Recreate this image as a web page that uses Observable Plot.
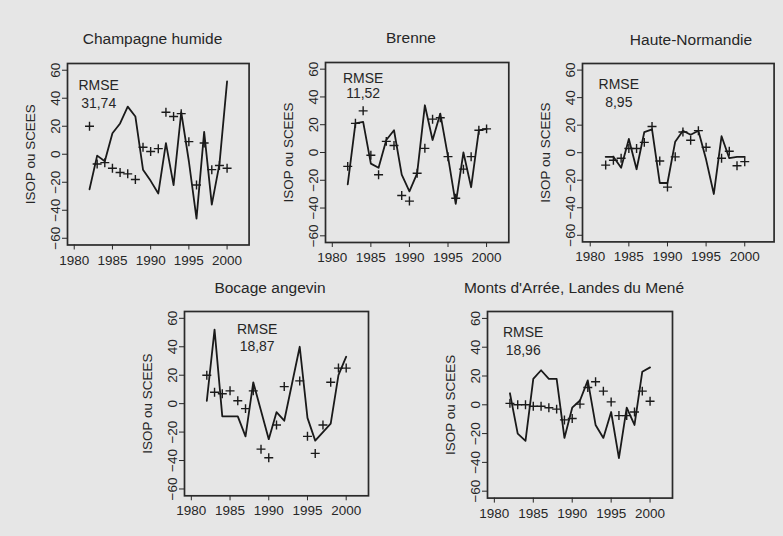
<!DOCTYPE html>
<html><head><meta charset="utf-8">
<script src="https://cdn.jsdelivr.net/npm/d3@7"></script>
<script src="https://cdn.jsdelivr.net/npm/@observablehq/plot@0.6"></script>
<style>
html,body{margin:0;padding:0;background:#e6e6e6;}
#chart{position:relative;width:783px;height:536px;background:#e6e6e6;overflow:hidden;font-family:"Liberation Sans",Arial,sans-serif;color:#262626;}
.title{position:absolute;font-size:15.5px;white-space:nowrap;transform:translate(-50%,-50%);line-height:1;}
.panel{position:absolute;}
.panel svg{overflow:visible;}
</style></head><body><div id="chart"></div>
<script>
// ---- data ----
const years = [1982,1983,1984,1985,1986,1987,1988,1989,1990,1991,1992,1993,1994,1995,1996,1997,1998,1999,2000];
const xTicks = [1980,1985,1990,1995,2000];
const yTicks = [-60,-40,-20,0,20,40,60];
const yTickLabels = ["\u221260","\u221240","\u221220","0","20","40","60"];
const yAxisLabel = "ISOP ou SCEES";
const titles = ["Champagne humide","Brenne","Haute-Normandie","Bocage angevin","Monts d'Arrée, Landes du Mené"];
const rmseWord = "RMSE";
const rmseValues = ["31,74","11,52","8,95","18,87","18,96"];

const isopChampagne  = [-25,-1,-5,15,22,34,27,-11,-19,-28,8,-22,30,-5,-46,16,-36,-7,52];
const sceesChampagne = [20,-7,-6,-10,-13,-14,-18,5,2,4,30,27,29,9,-22,8,-11,-8,-10];

const isopBrenne  = [-23,21,22,-8,-11,9,16,-16,-28,-15,34,9,28,-3,-37,0,-25,16,17];
const sceesBrenne = [-10,21,30,-2,-16,8,5,-31,-35,-15,3,24,25,-3,-33,-12,-3,16,17];

const isopHauteNormandie  = [-3,-3,-11,10,-12,15,17,-22,-22,8,16,13,16,-5,-30,12,-4,-3,-3];
const sceesHauteNormandie = [-9,-5.5,-4,3,3,7.5,19,-6,-25,-3,15,9,16,4,null,-4,1,-9.5,-6.5];

const isopBocage  = [2,52,-9,-9,-9,-23,15,-5,-25,-6,-12,14,40,-10,-26,-20,-14,20,33];
const sceesBocage = [20,8,7,9,2,-3.5,9,-32,-38,-15,12,null,16,-23,-35,-15,15,25,25];

const isopMonts  = [8,-20,-25,18,24,18,18,-23,-2,3,17,-14,-23,-5,-37,-2,-14,23,26];
const sceesMonts = [1,0,0,-1,-1,-2,-3,-10.5,-9.5,0.5,12,16,9.5,2,-7.5,-7.5,-5,9.5,2.5];

const isopSeries  = [isopChampagne,isopBrenne,isopHauteNormandie,isopBocage,isopMonts];
const sceesSeries = [sceesChampagne,sceesBrenne,sceesHauteNormandie,sceesBocage,sceesMonts];

// ---- layout (frame boxes, scale extents, annotation anchors) ----
const layout = [
  {L:66.7, T:62.7, W:181.6, H:181.5, xd:[1979.12,2002.88], tx:152.5, ty:39, rx:1983.2, ry:[49,36]},
  {L:325,  T:61.7, W:183.3, H:180,   xd:[1979.12,2002.88], tx:411,   ty:38, rx:1984,   ry:[53.6,42.4]},
  {L:581.7,T:63.3, W:191.6, H:178.4, xd:[1979.0,2003.8],   tx:691,   ty:40, rx:1983.7, ry:[49.3,36.7]},
  {L:184.3,T:310.7,W:184,   H:184.3, xd:[1979.12,2002.88], tx:270,   ty:288,rx:1988.5, ry:[52.2,40.3]},
  {L:486.7,T:310.7,W:185,   H:186.6, xd:[1979.12,2002.88], tx:574,   ty:288,rx:1983.7, ry:[50,37.6]}
];
const ml = 50, mr = 6, mt = 6, mb = 32;
const ink = "#1a1a1a";
const chart = document.getElementById("chart");

layout.forEach((p, k) => {
  const rows = years.map((yr, i) => ({year: yr, isop: isopSeries[k][i], scees: sceesSeries[k][i]}));
  const ann = [{x: p.rx, y: p.ry[0], t: rmseWord}, {x: p.rx, y: p.ry[1], t: rmseValues[k]}];
  const svg = Plot.plot({
    width: p.W + ml + mr,
    height: p.H + mt + mb,
    marginLeft: ml, marginRight: mr, marginTop: mt, marginBottom: mb,
    x: {domain: p.xd},
    y: {domain: [-64.8, 64.8]},
    style: {background: "transparent", fontFamily: "'Liberation Sans', Arial, sans-serif", fontSize: "13.5px", color: "#262626", overflow: "visible"},
    marks: [
      Plot.axisX({ticks: xTicks, tickSize: 5, tickPadding: 5, tickFormat: d => String(d), label: null, fontSize: 13.5}),
      Plot.axisY({ticks: yTicks, tickSize: 5, tickFormat: () => "", label: null}),
      Plot.text(yTicks, {y: d => d, text: (d, i) => yTickLabels[i], frameAnchor: "left", dx: -8, rotate: -90, textAnchor: "middle", lineAnchor: "bottom", fontSize: 13.5, fill: "#262626"}),
      Plot.text([yAxisLabel], {frameAnchor: "left", dx: -33, rotate: -90, textAnchor: "middle", lineAnchor: "bottom", fontSize: 13.5, fill: "#262626"}),
      Plot.line(rows, {x: "year", y: "isop", stroke: ink, strokeWidth: 1.8}),
      Plot.dot(rows.filter(d => d.scees != null), {x: "year", y: "scees", symbol: "plus", r: 3, stroke: ink, strokeWidth: 1.4}),
      Plot.text(ann, {x: "x", y: "y", text: "t", textAnchor: "middle", fontSize: 14, fill: "#262626"}),
      Plot.frame({stroke: "#2a2a2a", strokeWidth: 1.7})
    ]
  });
  const div = document.createElement("div");
  div.className = "panel";
  div.style.left = (p.L - ml) + "px";
  div.style.top = (p.T - mt) + "px";
  div.appendChild(svg);
  chart.appendChild(div);
  const t = document.createElement("div");
  t.className = "title";
  t.style.left = p.tx + "px";
  t.style.top = p.ty + "px";
  t.textContent = titles[k];
  chart.appendChild(t);
});
</script></body></html>
